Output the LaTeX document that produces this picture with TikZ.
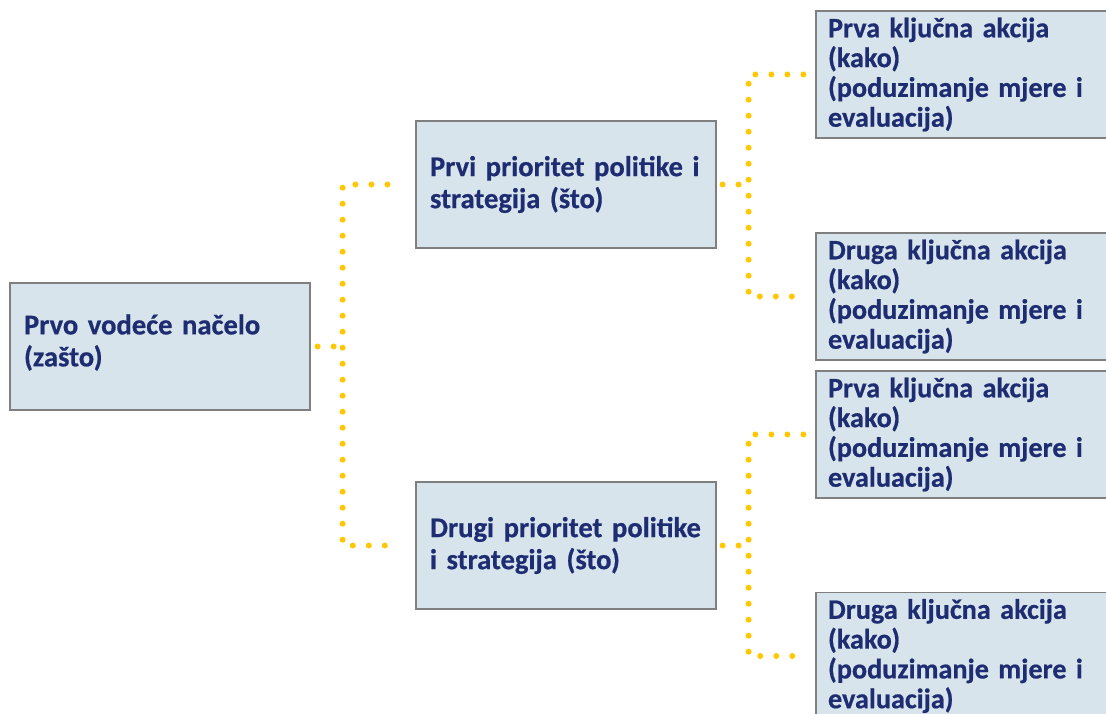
\documentclass[tikz,border=0pt]{standalone}
\usepackage{fontspec}
\setmainfont{Carlito}[BoldFeatures={FakeBold=0.6}]
\usetikzlibrary{calc,positioning}

\definecolor{navy}{HTML}{1E2C72}
\definecolor{boxfill}{HTML}{D8E4EB}
\definecolor{boxline}{HTML}{7F7F7F}
\definecolor{dotyellow}{HTML}{FFC800}

\tikzset{
  box/.style={draw=boxline, line width=1.2pt, fill=boxfill,
    minimum width=300pt, minimum height=127pt, text width=272pt,
    inner xsep=14pt, align=left, text=navy,
    font=\fontsize{28.6}{32}\selectfont\bfseries},
  leaf/.style={box, inner xsep=12pt, text width=276pt,
    font=\fontsize{28.2}{29.8}\selectfont\bfseries},
  conn/.style={draw=dotyellow, line width=6pt, line cap=round,
    dash pattern=on 0pt off 16pt}
}

\begin{document}
\begin{tikzpicture}[x=1pt,y=1pt]

    \useasboundingbox (0,0) rectangle (1106,-714);
    \clip (0,0) rectangle (1106,-714);

    %Nacelo
    \node[box] (root) at (160,-346.5) {\raisebox{4pt}[\height][\depth]{\parbox{272pt}{\raggedright Prvo vodeće načelo\\(zašto)}}};

    %Prioriteti
    \node[box] (prio1) at (566,-184.5) {Prvi prioritet politike i\\strategija (što)};
    \node[box] (prio2) at (566,-545.5) {Drugi prioritet politike\\i strategija (što)};

    %Akcije
    \node[leaf] (akc1) at (966,-74.5) {Prva ključna akcija\\(kako)\\(poduzimanje mjere i\\evaluacija)};
    \node[leaf] (akc2) at (966,-296.5) {Druga ključna akcija\\(kako)\\(poduzimanje mjere i\\evaluacija)};
    \node[leaf] (akc3) at (966,-434.5) {Prva ključna akcija\\(kako)\\(poduzimanje mjere i\\evaluacija)};
    \node[leaf] (akc4) at (966,-656) {Druga ključna akcija\\(kako)\\(poduzimanje mjere i\\evaluacija)};

    %Tockaste veze
    \coordinate (rootfork) at ($(root.east)+(32,0)$);
    \coordinate (prio1fork) at ($(prio1.east)+(32,0)$);
    \coordinate (prio2fork) at ($(prio2.east)+(32,0)$);

    \draw[conn, shorten <=7pt] (root.east) -- (rootfork);
    \draw[conn, shorten <=28pt, shorten >=18pt] (prio1.west) -| (rootfork) |- (prio2.west);

    \draw[conn, shorten <=6pt] (prio1.east) -- (prio1fork);
    \draw[conn, shorten <=12pt, shorten >=11pt] (akc1.west) -| (prio1fork) |- (akc2.west);

    \draw[conn, shorten <=6pt] (prio2.east) -- (prio2fork);
    \draw[conn, shorten <=12pt, shorten >=10.5pt] (akc3.west) -| (prio2fork) |- (akc4.west);

\end{tikzpicture}
\end{document}
